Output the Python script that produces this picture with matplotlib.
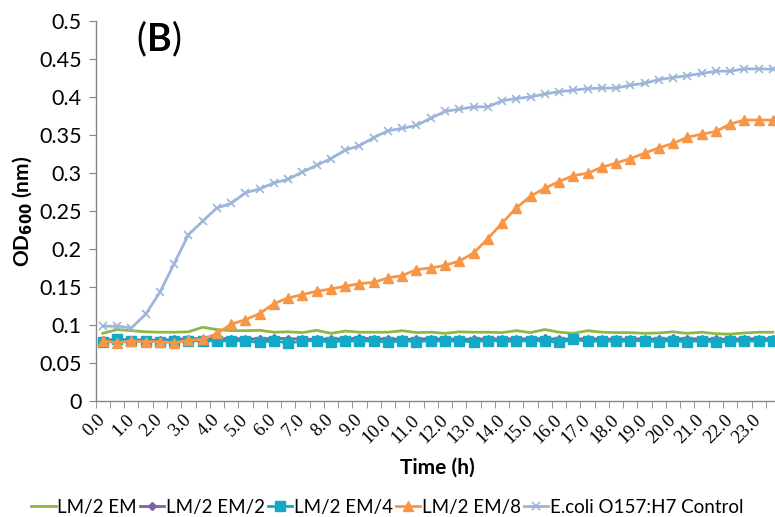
import matplotlib.pyplot as plt
import numpy as np
from matplotlib.ticker import FixedLocator

# sampling every 0.5 h, 48 readings (0.0 .. 23.5)
hours = np.arange(48) * 0.5

lm2_em = [0.089, 0.094, 0.0925, 0.091, 0.0905, 0.0905, 0.091, 0.097, 0.094, 0.0925,
          0.0925, 0.093, 0.0905, 0.091, 0.090, 0.093, 0.089, 0.092, 0.0905, 0.0905,
          0.0905, 0.0925, 0.090, 0.0905, 0.089, 0.091, 0.0905, 0.0905, 0.090, 0.0925,
          0.090, 0.094, 0.0905, 0.089, 0.0925, 0.0905, 0.090, 0.090, 0.089, 0.0895,
          0.091, 0.089, 0.0905, 0.0885, 0.088, 0.0895, 0.0905, 0.0905]
lm2_em2 = [0.080, 0.081, 0.0805, 0.080, 0.080, 0.081, 0.082, 0.082, 0.082, 0.082,
           0.082, 0.0815, 0.0825, 0.082, 0.0815, 0.081, 0.082, 0.0815, 0.083, 0.0815,
           0.082, 0.081, 0.0815, 0.082, 0.0815, 0.0815, 0.081, 0.082, 0.0815, 0.082,
           0.0815, 0.0825, 0.081, 0.082, 0.0815, 0.082, 0.081, 0.0815, 0.082, 0.081,
           0.0825, 0.0815, 0.082, 0.081, 0.0815, 0.0815, 0.082, 0.082]
lm2_em4 = [0.078, 0.081, 0.0785, 0.079, 0.078, 0.0795, 0.079, 0.0795, 0.079, 0.0795,
           0.079, 0.077, 0.0795, 0.076, 0.079, 0.0795, 0.0775, 0.0795, 0.0785, 0.0795,
           0.077, 0.0795, 0.078, 0.0795, 0.0785, 0.079, 0.078, 0.0795, 0.079, 0.0785,
           0.0795, 0.079, 0.077, 0.081, 0.0785, 0.079, 0.0785, 0.079, 0.0795, 0.078,
           0.0795, 0.078, 0.0795, 0.0775, 0.0785, 0.079, 0.079, 0.0795]
lm2_em8 = [0.079, 0.0766, 0.079, 0.078, 0.078, 0.0766, 0.080, 0.081, 0.0888, 0.101,
           0.107, 0.115, 0.128, 0.1356, 0.140, 0.1444, 0.1474, 0.151, 0.1544, 0.156,
           0.162, 0.165, 0.173, 0.175, 0.1785, 0.184, 0.1946, 0.2135, 0.234, 0.254,
           0.2695, 0.280, 0.2887, 0.2966, 0.2996, 0.3075, 0.313, 0.319, 0.326, 0.333,
           0.339, 0.347, 0.351, 0.3547, 0.3644, 0.3697, 0.3697, 0.3697]
control = [0.0984, 0.0984, 0.0962, 0.114, 0.143, 0.1807, 0.2187, 0.2366, 0.254, 0.260,
           0.274, 0.279, 0.287, 0.2917, 0.3014, 0.310, 0.319, 0.330, 0.336, 0.3465,
           0.3556, 0.3587, 0.3627, 0.372, 0.381, 0.384, 0.387, 0.387, 0.395, 0.398,
           0.400, 0.404, 0.407, 0.409, 0.411, 0.4117, 0.4117, 0.4155, 0.418, 0.423,
           0.4256, 0.428, 0.431, 0.434, 0.434, 0.437, 0.437, 0.4366]

y_ticks = [0, 0.05, 0.1, 0.15, 0.2, 0.25, 0.3, 0.35, 0.4, 0.45, 0.5]
y_labels = ['0', '0.05', '0.1', '0.15', '0.2', '0.25', '0.3', '0.35', '0.4', '0.45', '0.5']
x_ticks = np.arange(0, 24, 1.0)
x_labels = [f'{h:.1f}' for h in x_ticks]

fig = plt.figure(figsize=(7.75, 5.17), dpi=100)
# plot area runs a little past the right border, as in the cropped original
ax = fig.add_axes([0.1235, 0.2244, 0.8830, 0.7350])

ax.plot(hours, lm2_em, color='#8DB848', lw=2, label='LM/2 EM')
ax.plot(hours, lm2_em2, color='#8064A2', lw=2, marker='D', markersize=4, label='LM/2 EM/2')
ax.plot(hours, lm2_em4, color='#12A9C6', lw=2, marker='s', markersize=6.5, label='LM/2 EM/4')
ax.plot(hours, lm2_em8, color='#F79646', lw=2, marker='^', markersize=7.5, label='LM/2 EM/8')
ax.plot(hours, control, color='#9DB5D8', lw=2, marker='x', markersize=6,
        markeredgewidth=1.2, label='E.coli O157:H7 Control')

ax.set_xlim(-0.25, 23.75)
ax.set_ylim(0, 0.5)

for s in ['top', 'right']:
    ax.spines[s].set_visible(False)
for s in ['left', 'bottom']:
    ax.spines[s].set_color('#868686')
    ax.spines[s].set_linewidth(1)

ax.set_yticks(y_ticks, y_labels, fontfamily='Lato', fontsize=15.5)
ax.tick_params(axis='y', direction='out', length=5, color='#868686', pad=5)

# categories: ticks between them, labels on every other one
ax.xaxis.set_major_locator(FixedLocator(x_ticks))
ax.xaxis.set_minor_locator(FixedLocator(np.arange(-0.25, 23.8, 0.5)))
ax.set_xticklabels(x_labels, fontfamily='Liberation Serif', fontsize=13.5, rotation=45,
                   ha='right', va='center', rotation_mode='anchor')
ax.tick_params(axis='x', which='major', length=0, pad=12)
ax.tick_params(axis='x', which='minor', direction='out', length=5, color='#868686')

ax.set_xlabel('Time (h)', fontfamily='Lato', fontweight='bold', fontsize=15, labelpad=8)
ax.set_ylabel(r'OD$_{\mathbf{600}}$ (nm)', fontfamily='Lato', fontweight='bold', fontsize=15, labelpad=3)

t1 = ax.text(0.06, 1.0, '(', transform=ax.transAxes, fontfamily='Lato', fontsize=27, va='top')
t2 = ax.annotate('B', xy=(1, 0), xycoords=t1, va='bottom', fontfamily='Lato', fontsize=27, fontweight='bold')
ax.annotate(')', xy=(1, 0), xycoords=t2, va='bottom', fontfamily='Lato', fontsize=27)

fig.legend(loc='lower center', bbox_to_anchor=(0.5, -0.03), ncol=5, frameon=False,
           prop={'family': 'Lato', 'size': 13.5}, handlelength=1.3, handletextpad=0.1,
           columnspacing=0.15)

plt.savefig('out.png', dpi=100)
